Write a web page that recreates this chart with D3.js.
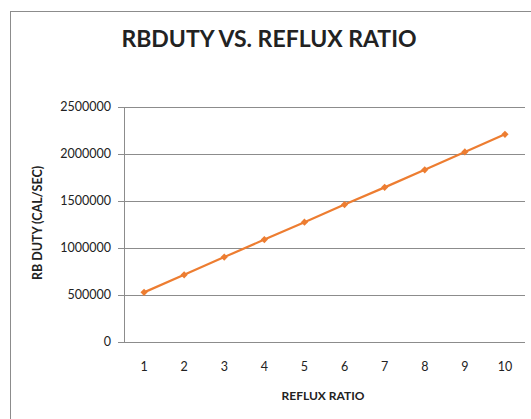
<!DOCTYPE html>
<html>
<head>
<meta charset="utf-8">
<script src="https://cdn.jsdelivr.net/npm/d3@7"></script>
<style>
html,body{margin:0;padding:0;background:#fff;}
svg{display:block;}
text{font-family:Lato,"Open Sans",sans-serif;fill:#222;}
</style>
</head>
<body>
<svg id="chart" width="531" height="419"></svg>
<script>
const categories = [1, 2, 3, 4, 5, 6, 7, 8, 9, 10];
const rbDuty = [528000, 715000, 903000, 1090000, 1275000, 1462000, 1645000, 1832000, 2022000, 2209000];
const yTicks = [0, 500000, 1000000, 1500000, 2000000, 2500000];
const title = "RBDUTY VS. REFLUX RATIO";
const xTitle = "REFLUX RATIO";
const yTitle = "RB DUTY (CAL/SEC)";

const svg = d3.select("#chart");
const W = 531, H = 419;
const m = {left: 124, right: 6, top: 107, bottom: 77};

// chart border
svg.append("rect").attr("x", 10.5).attr("y", 11.5).attr("width", W).attr("height", H)
  .attr("fill", "none").attr("stroke", "#8c8c8c").attr("stroke-width", 1);

const x = d3.scaleBand().domain(categories).range([m.left, W - m.right]).padding(0);
const y = d3.scaleLinear().domain([0, 2500000]).range([H - m.bottom, m.top]);

// gridlines
svg.append("g").selectAll("line").data(yTicks).join("line")
  .attr("x1", m.left - 6).attr("x2", W - m.right)
  .attr("y1", d => Math.round(y(d)) + 0.5).attr("y2", d => Math.round(y(d)) + 0.5)
  .attr("stroke", "#8c8c8c").attr("stroke-width", 1);

// y axis line
svg.append("line").attr("x1", m.left + 0.5).attr("x2", m.left + 0.5)
  .attr("y1", y(2500000)).attr("y2", y(0))
  .attr("stroke", "#8c8c8c");

// y tick labels
svg.append("g").selectAll("text").data(yTicks).join("text")
  .attr("x", m.left - 13).attr("y", d => y(d)).attr("dy", "0.35em")
  .attr("text-anchor", "end").attr("font-size", 12.5).text(d => d);

// x tick labels
svg.append("g").selectAll("text").data(categories).join("text")
  .attr("x", d => x(d) + x.bandwidth() / 2).attr("y", 371)
  .attr("text-anchor", "middle").attr("font-size", 12.5).text(d => d);

// line
const line = d3.line().x((d, i) => x(categories[i]) + x.bandwidth() / 2).y(d => y(d));
svg.append("path").datum(rbDuty).attr("d", line)
  .attr("fill", "none").attr("stroke", "#ED7D31").attr("stroke-width", 2.2);

const sym = d3.symbol().type(d3.symbolSquare).size(26);
svg.append("g").selectAll("path").data(rbDuty).join("path")
  .attr("transform", (d, i) => `translate(${x(categories[i]) + x.bandwidth() / 2},${y(d)}) rotate(45)`)
  .attr("d", sym).attr("fill", "#ED7D31");

// titles
svg.append("text").attr("x", 269).attr("y", 47).attr("text-anchor", "middle")
  .attr("font-size", 23).attr("font-weight", "bold").text(title);

svg.append("text").attr("x", 323).attr("y", 400).attr("text-anchor", "middle")
  .attr("font-size", 12).attr("font-weight", "bold").text(xTitle);

svg.append("text").attr("transform", "translate(42,223) rotate(-90)").attr("text-anchor", "middle")
  .attr("font-size", 12.5).attr("font-weight", "bold").text(yTitle);
</script>
</body>
</html>
